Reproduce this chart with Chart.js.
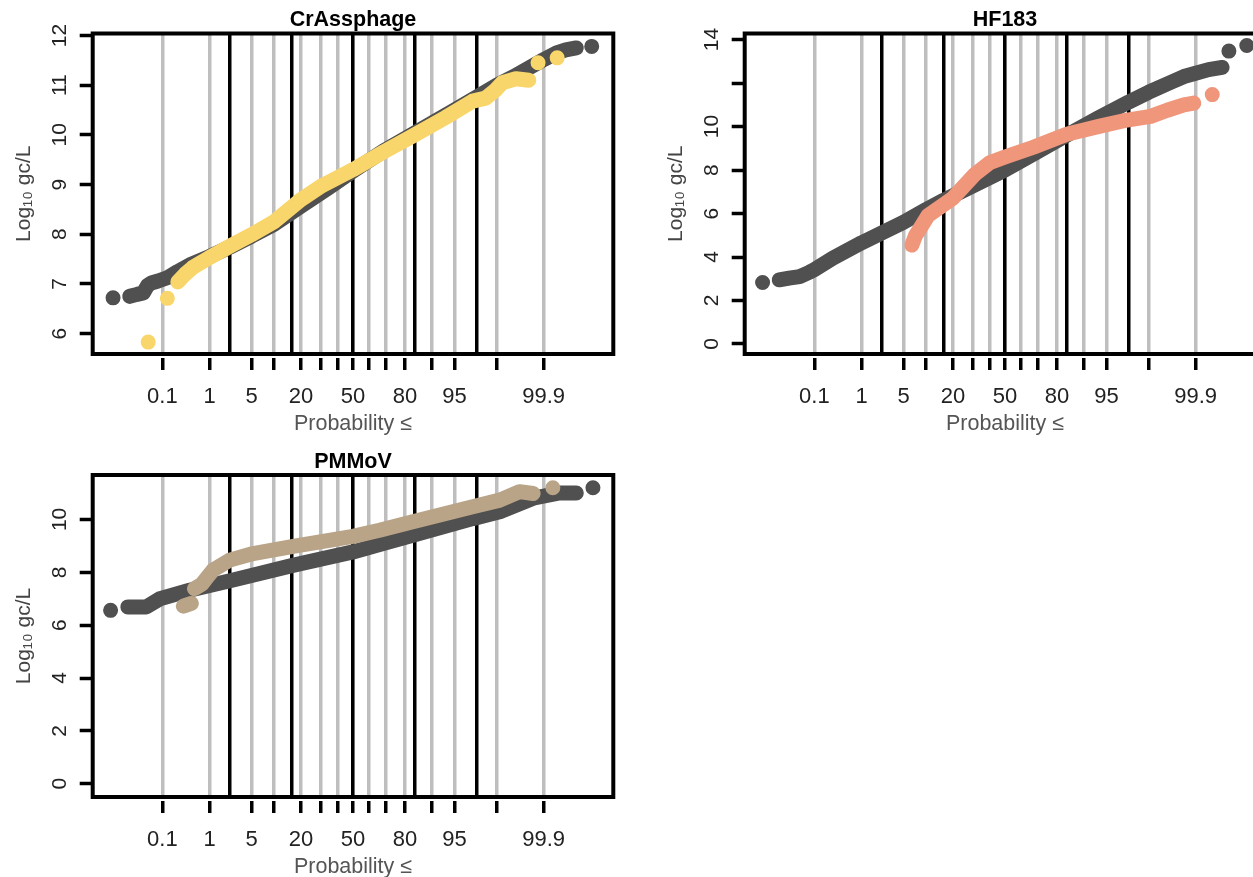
<!DOCTYPE html>
<html><head><meta charset="utf-8">
<script src="https://cdn.jsdelivr.net/npm/chart.js@4.4.1/dist/chart.umd.min.js"></script>
<style>
html,body{margin:0;padding:0;background:#fff;overflow:hidden;width:1253px;height:877px;position:relative;}
canvas{position:absolute;}
</style></head><body>
<canvas id="cA" width="626" height="440" style="left:0;top:0"></canvas>
<canvas id="cB" width="626" height="440" style="left:651.7px;top:0"></canvas>
<canvas id="cC" width="626" height="443" style="left:0;top:440px"></canvas>
<script>
// ---------- axis ticks ----------
const probTicks  = [0.1, 1, 5, 10, 20, 30, 40, 50, 60, 70, 80, 90, 95, 99, 99.9];
const probLabels = ['0.1','1','5','','20','','','50','','','80','','95','','99.9'];
const sdLines    = [-2, -1, 0, 1, 2];
const crassYTicks = [6, 7, 8, 9, 10, 11, 12];
const hfYTicks    = [0, 2, 4, 6, 8, 10, 12, 14];
const hfYLabels   = ['0','2','4','6','8','10','','14'];
const pmYTicks    = [0, 2, 4, 6, 8, 10];

// ---------- data: normal quantile (z) and log10 gc/L; null = gap ----------
const crassGrayZ = [-3.89, null, -3.62, -3.50, -3.40, -3.33, -3.27, -3.16, -3.00, -2.84, -2.62, -2.33, -2.00, -1.645, -1.28, -0.84, -0.40, 0.00, 0.50, 1.00, 1.645, 2.00, 2.33, 2.60, 2.90, 3.10, 3.30, 3.45, 3.62, null, 3.87];
const crassGrayV = [6.72, null, 6.75, 6.79, 6.82, 6.97, 7.02, 7.06, 7.13, 7.25, 7.40, 7.55, 7.74, 7.96, 8.20, 8.57, 8.93, 9.27, 9.68, 10.04, 10.50, 10.76, 11.00, 11.17, 11.38, 11.52, 11.65, 11.71, 11.75, null, 11.78];
const crassYellowZ = [-3.32, null, -3.01, null, -2.84, -2.72, -2.60, -2.33, -1.98, -1.645, -1.28, -0.96, -0.84, -0.50, 0.00, 0.50, 1.00, 1.50, 1.94, 2.15, 2.31, 2.42, 2.64, 2.85, null, 3.00, null, 3.31];
const crassYellowV = [5.83, null, 6.71, null, 7.04, 7.20, 7.33, 7.53, 7.77, 7.99, 8.25, 8.58, 8.70, 8.98, 9.30, 9.66, 10.00, 10.35, 10.68, 10.74, 10.90, 11.05, 11.13, 11.10, null, 11.45, null, 11.55];

const hfGrayZ = [-3.93, null, -3.66, -3.50, -3.33, -3.17, -3.09, -2.79, -2.33, -2.00, -1.645, -1.28, -1.00, -0.50, 0.00, 0.50, 1.00, 1.50, 2.00, 2.33, 2.70, 2.90, 3.09, 3.30, 3.52, null, 3.63, null, 3.92];
const hfGrayV = [2.83, null, 2.95, 3.03, 3.10, 3.30, 3.42, 3.95, 4.65, 5.10, 5.60, 6.18, 6.60, 7.30, 8.00, 8.80, 9.60, 10.38, 11.12, 11.58, 12.05, 12.30, 12.45, 12.62, 12.72, null, 13.47, null, 13.73];
const hfSalmonZ = [-1.51, -1.45, -1.38, -1.25, -1.00, -0.85, -0.49, -0.24, 0.00, 0.46, 1.00, 1.54, 1.98, 2.36, 2.63, 2.90, 3.06, null, 3.36];
const hfSalmonV = [4.55, 5.00, 5.30, 5.90, 6.40, 6.70, 7.80, 8.35, 8.60, 9.05, 9.65, 10.02, 10.30, 10.47, 10.75, 11.00, 11.08, null, 11.47];

const pmGrayZ = [-3.93, null, -3.65, -3.35, -3.13, -2.65, -1.96, -0.96, 0.00, 0.43, 0.97, 1.94, 2.38, 2.92, 3.35, 3.62, null, 3.89];
const pmGrayV = [6.56, null, 6.69, 6.69, 7.00, 7.32, 7.70, 8.27, 8.77, 9.05, 9.40, 10.03, 10.29, 10.80, 11.00, 11.00, null, 11.20];
const pmTanZ = [-2.75, -2.62, null, -2.57, -2.45, -2.35, -2.27, -2.00, -1.62, -0.97, 0.00, 0.43, 0.97, 1.94, 2.38, 2.70, 2.92, null, 3.24];
const pmTanV = [6.72, 6.82, null, 7.38, 7.55, 7.85, 8.08, 8.46, 8.71, 8.98, 9.36, 9.59, 9.91, 10.48, 10.73, 11.05, 10.98, null, 11.20];

// ---------- helpers ----------
function qnorm(p){
  const a=[-3.969683028665376e+01,2.209460984245205e+02,-2.759285104469687e+02,1.383577518672690e+02,-3.066479806614716e+01,2.506628277459239e+00];
  const b=[-5.447609879822406e+01,1.615858368580409e+02,-1.556989798598866e+02,6.680131188771972e+01,-1.328068155288572e+01];
  const c=[-7.784894002430293e-03,-3.223964580411365e-01,-2.400758277161838e+00,-2.549732539343734e+00,4.374664141464968e+00,2.938163982698783e+00];
  const d=[7.784695709041462e-03,3.224671290700398e-01,2.445134137142996e+00,3.754408661907416e+00];
  const pl=0.02425, ph=1-pl; let q,r;
  if(p<pl){q=Math.sqrt(-2*Math.log(p));return (((((c[0]*q+c[1])*q+c[2])*q+c[3])*q+c[4])*q+c[5])/((((d[0]*q+d[1])*q+d[2])*q+d[3])*q+1);}
  if(p<=ph){q=p-0.5;r=q*q;return (((((a[0]*r+a[1])*r+a[2])*r+a[3])*r+a[4])*r+a[5])*q/(((((b[0]*r+b[1])*r+b[2])*r+b[3])*r+b[4])*r+1);}
  q=Math.sqrt(-2*Math.log(1-p));return -(((((c[0]*q+c[1])*q+c[2])*q+c[3])*q+c[4])*q+c[5])/((((d[0]*q+d[1])*q+d[2])*q+d[3])*q+1);
}
function xTicks(){
  return probTicks.map((p,i)=>({value:qnorm(p/100), lbl:probLabels[i]}))
    .concat(sdLines.map(z=>({value:z, lbl:'', sd:true})));
}
function ds(zs, vs, color){
  return {
    data: zs.map((z,i)=> z===null ? {x:0, y:null} : {x:z, y:vs[i]}),
    showLine:true, spanGaps:false, tension:0,
    borderColor:color, backgroundColor:color, borderWidth:15,
    borderCapStyle:'round', borderJoinStyle:'round',
    pointRadius:6.8, pointHoverRadius:6.8, pointBorderWidth:0,
    pointBackgroundColor:color
  };
}
const FONT = "'Liberation Sans', Arial, sans-serif";
Chart.defaults.font.family = FONT;
const boxPlugin = {
  id:'box',
  afterDatasetsDraw(chart){
    const {ctx, chartArea:a} = chart;
    ctx.save(); ctx.strokeStyle='#000'; ctx.lineWidth=4;
    ctx.strokeRect(a.left, a.top, a.right-a.left, a.bottom-a.top);
    ctx.restore();
  }
};
function makeChart(id, title, titlePad, yMin, yMax, yTicks, yLabels, xH, sets){
  return new Chart(document.getElementById(id), {
    type:'scatter',
    data:{datasets:sets},
    plugins:[boxPlugin],
    options:{
      responsive:false, animation:false, events:[],
      layout:{padding:{left:0, right:12.7, top:0, bottom:0}},
      plugins:{
        legend:{display:false}, tooltip:{enabled:false},
        title:{display:true, text:title, fullSize:false, color:'#000',
               font:{size:21.5, weight:'bold'}, padding:titlePad}
      },
      scales:{
        x:{
          type:'linear', min:-4.22, max:4.22,
          afterBuildTicks: s => { s.ticks = xTicks(); },
          afterFit: s => { s.height = xH; },
          ticks:{autoSkip:false, minRotation:0, maxRotation:0, padding:13.8,
                 font:{size:22}, color:'#222', callback:(v,i,t)=> t[i].lbl},
          grid:{drawOnChartArea:true, drawTicks:true, tickLength:16, tickWidth:3.5,
                lineWidth:3.5,
                color: c => (c.tick && c.tick.sd) ? '#000' : '#bebebe',
                tickColor: c => (c.tick && c.tick.sd) ? 'rgba(0,0,0,0)' : '#000',
                tickBorderDash:[0,4,12,100]},
          border:{display:false},
          title:{display:true, text:'Probability ≤', color:'#555',
                 font:{size:21.5}, padding:{top:0, bottom:3.1}}
        },
        y:{
          type:'linear', min:yMin, max:yMax,
          afterBuildTicks: s => { s.ticks = yTicks.map(v=>({value:v})); },
          afterFit: s => { s.width = 92.7; },
          ticks:{minRotation:90, maxRotation:90, crossAlign:'center', padding:8,
                 font:{size:21}, color:'#222',
                 callback:(v,i)=> yLabels ? yLabels[i] : String(v)},
          grid:{drawOnChartArea:false, drawTicks:true, tickLength:13, tickWidth:3.5, tickColor:'#000'},
          border:{display:false},
          title:{display:true, text:'Log₁₀ gc/L', color:'#444',
                 font:{size:21}, padding:{top:11.4, bottom:0}}
        }
      }
    }
  });
}
const GRAY='#505050', YEL='#F9D66B', SAL='#EF967B', TAN='#B9A488';
makeChart('cA','CrAssphage',{top:7.1,bottom:0.6},5.59,12.04,crassYTicks,null,86,
  [ds(crassYellowZ,crassYellowV,YEL), ds(crassGrayZ,crassGrayV,GRAY)]);
makeChart('cB','HF183',{top:7.1,bottom:0.6},-0.46,14.28,hfYTicks,hfYLabels,86,
  [ds(hfSalmonZ,hfSalmonV,SAL), ds(hfGrayZ,hfGrayV,GRAY)]);
makeChart('cC','PMMoV',{top:9.1,bottom:0.1},-0.5,11.68,pmYTicks,null,86,
  [ds(pmTanZ,pmTanV,TAN), ds(pmGrayZ,pmGrayV,GRAY)]);
</script>
</body></html>
